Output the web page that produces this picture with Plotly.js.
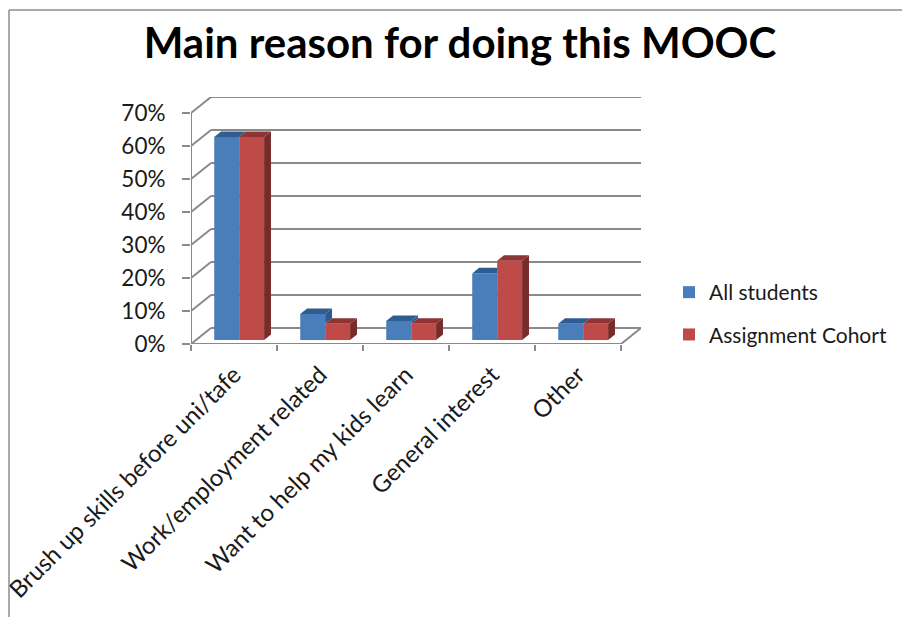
<!DOCTYPE html>
<html>
<head>
<meta charset="utf-8">
<script src="https://cdn.plot.ly/plotly-3.0.1.min.js"></script>
<style>html,body{margin:0;padding:0;background:#fff}#c{width:902px;height:617px}</style>
</head>
<body>
<div id="c"></div>
<script>
const categories = ["Brush up skills before uni/tafe","Work/employment related","Want to help my kids learn","General interest","Other"];
const allStudents = [61.5, 7.9, 5.8, 20.2, 4.9];
const assignmentCohort = [61.5, 4.9, 4.9, 24, 4.9];
const yTicks = [0,10,20,30,40,50,60,70];
const yTickLabels = ["0%","10%","20%","30%","40%","50%","60%","70%"];

// 3-D look, in axis units
const wallDx = 0.2326, wallDy = 4.85;   // depth of the chart box
const barDx = 0.08, barDy = 1.67;       // depth of a bar
const barBase = 1.2, barWidth = 0.29, clusterShift = 0.56;
const gridColor = "#8a8a8a";
const blue = "#4a7ebb", red = "#be4b48", blueDark = "#2f5d92", redDark = "#772c2a", redTop = "#8f3432", blueSide = "#2c5a8e";

const n = categories.length;
const centers = categories.map((_, i) => i + clusterShift);

function bar(name, vals, color, offset){
  return {type:"bar", name:name, x:centers, y:vals, base:barBase, width:barWidth, offset:offset,
    marker:{color:color, line:{width:0}}, legendgroup:name, hoverinfo:"y"};
}
function poly(xs, ys, color){
  return {type:"scatter", mode:"lines", x:xs, y:ys, fill:"toself", fillcolor:color,
    line:{width:0, color:color}, showlegend:false, hoverinfo:"skip"};
}
const bt = {x:[],y:[]}, bs = {x:[],y:[]}, rt = {x:[],y:[]}, rs = {x:[],y:[]};
function add(o, xs, ys){ o.x.push(...xs, null); o.y.push(...ys, null); }
centers.forEach((c,i)=>{
  const vb = allStudents[i]+barBase, vr = assignmentCohort[i]+barBase;
  const l = c-barWidth, m = c, r = c+barWidth;
  if (vb >= vr) add(bt,[l,m,m+barDx,l+barDx],[vb,vb,vb+barDy,vb+barDy]);
  else add(bt,[l,m,m,l+barDx],[vb,vb,vb+barDy,vb+barDy]);
  if (vb > vr) add(bs,[m,m,m+barDx,m+barDx],[vr,vb,vb+barDy,vr+barDy]);
  add(rt,[m,r,r+barDx,m+barDx],[vr,vr,vr+barDy,vr+barDy]);
  add(rs,[r,r,r+barDx,r+barDx],[barBase,vr,vr+barDy,barBase+barDy]);
});

const traces = [
  bar("All students", allStudents, blue, -barWidth),
  bar("Assignment Cohort", assignmentCohort, red, 0),
  poly(bs.x,bs.y,blueSide), poly(bt.x,bt.y,blueDark),
  poly(rt.x,rt.y,redTop), poly(rs.x,rs.y,redDark)
];

const line = {color:gridColor, width:2};
const shapes = [];
function seg(x0,y0,x1,y1){ shapes.push({type:"line",layer:"below",xref:"x",yref:"y",x0,y0,x1,y1,line}); }
yTicks.forEach(v=>{
  seg(wallDx, v+wallDy, n+wallDx, v+wallDy);
  seg(0, v, wallDx, v+wallDy);
});
seg(0,0,0,70);
seg(0,0,n,0);
seg(n,0,n+wallDx,wallDy);
// picture frame: top and left edges
const frame = {color:"#8e8e8e", width:1.5};
const px = v => (v-191)/450, py = v => (344-v)/247;
shapes.push({type:"line",xref:"paper",yref:"paper",x0:px(9),x1:px(902),y0:py(10),y1:py(10),line:frame});
shapes.push({type:"line",xref:"paper",yref:"paper",x0:px(9),x1:px(9),y0:py(10),y1:py(617),line:frame});

const layout = {
  width:902, height:617,
  margin:{l:191, r:261, t:97, b:273, pad:0, autoexpand:false},
  paper_bgcolor:"#fff", plot_bgcolor:"rgba(0,0,0,0)",
  font:{family:"Lato, sans-serif", color:"#1a1a1a", size:21},
  title:{text:"Main reason for doing this MOOC", font:{family:"Lato, sans-serif", size:42, color:"#000", weight:"bold"},
    x:460/902, xanchor:"center", y:1-43/617, yanchor:"middle"},
  barmode:"overlay",
  xaxis:{type:"linear", range:[0,n+wallDx], tickmode:"array",
    tickvals:categories.map((_,i)=>i+0.5), ticktext:categories,
    tickangle:-45, ticks:"", showgrid:false, zeroline:false, showline:false,
    ticklabelstandoff:11,
    tickfont:{size:24,color:"#1a1a1a"},
    minor:{tickmode:"array", tickvals:[0,1,2,3,4,5], ticks:"outside", ticklen:6, tickwidth:2, tickcolor:gridColor, showgrid:false}},
  yaxis:{range:[0,70+wallDy], tickmode:"array", tickvals:yTicks, ticktext:yTickLabels,
    ticks:"outside", ticklen:8, tickwidth:2, tickcolor:gridColor, ticklabelstandoff:12,
    showgrid:false, zeroline:false, showline:false, tickfont:{size:22.5,color:"#1a1a1a"}},
  legend:{x:px(669), xanchor:"left", y:py(272), yanchor:"top", bgcolor:"rgba(0,0,0,0)",
    font:{size:21,color:"#1a1a1a"}, tracegroupgap:12, traceorder:"grouped"},
  shapes:shapes
};
Plotly.newPlot("c", traces, layout, {displayModeBar:false, responsive:false});
</script>
</body>
</html>
